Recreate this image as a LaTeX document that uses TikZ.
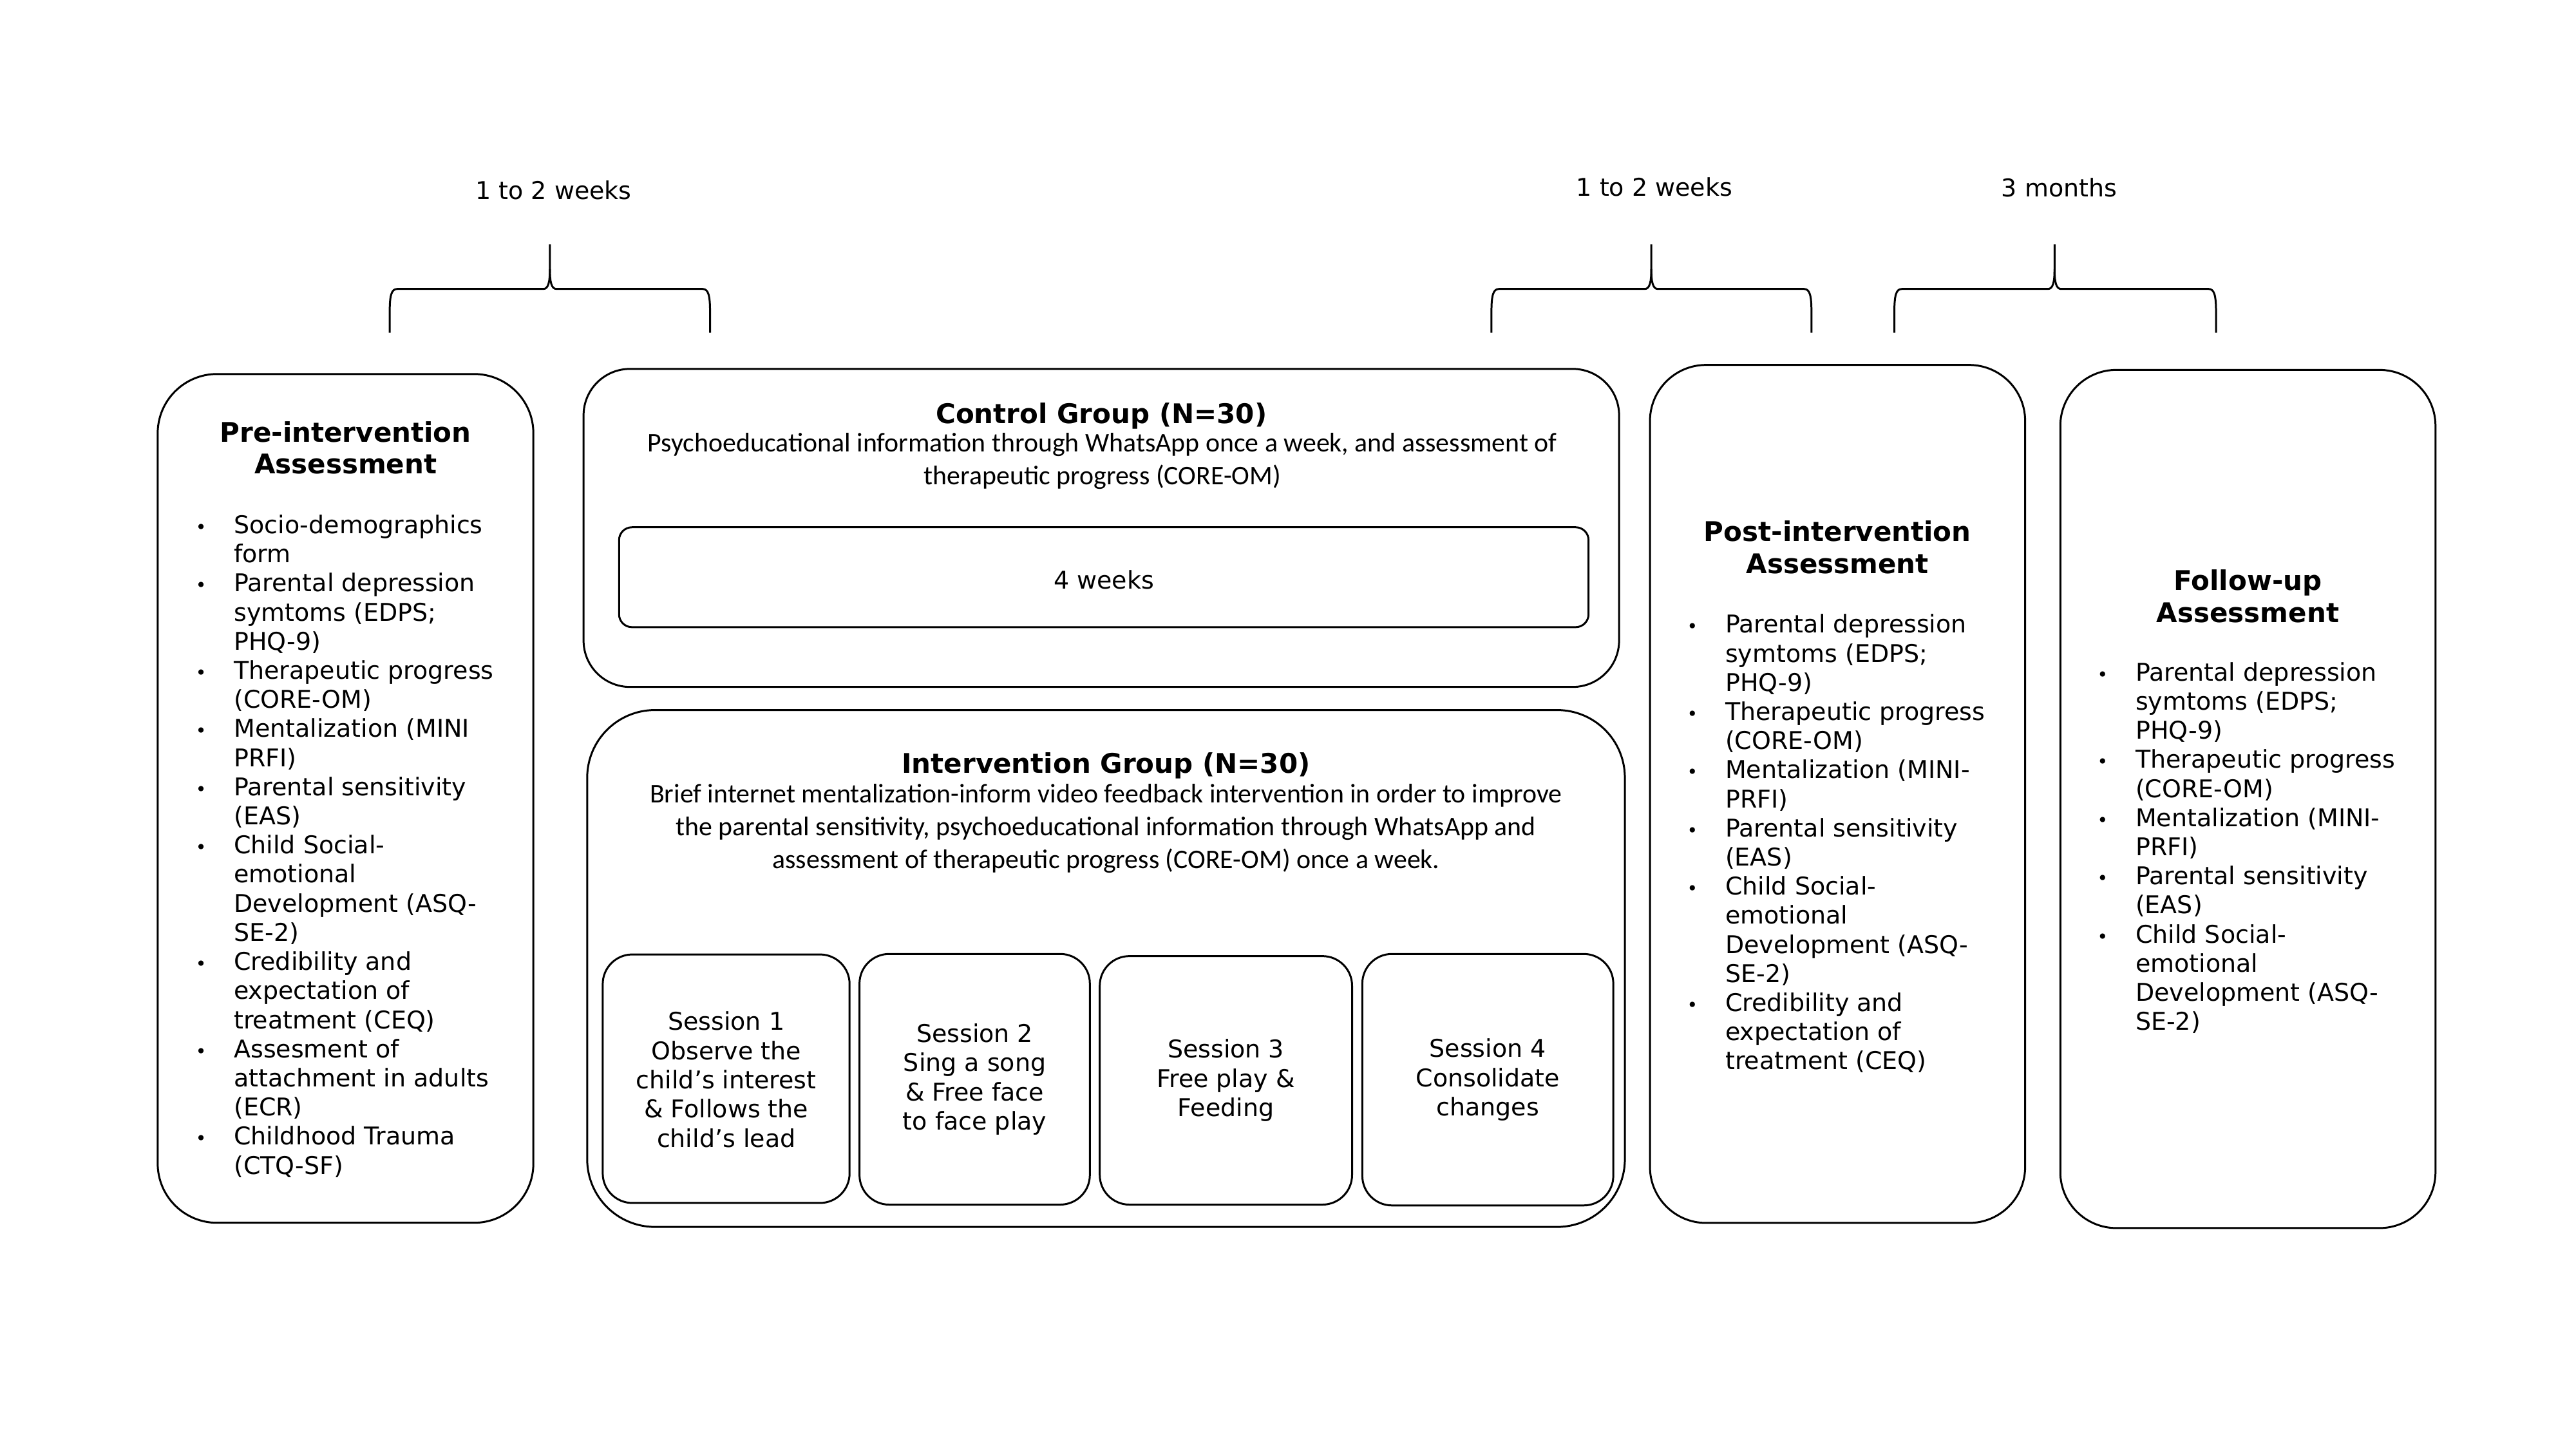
\documentclass[tikz,border=0pt]{standalone}
\usepackage{fontspec}
\setmainfont{DejaVu Sans}
\newfontfamily\calib{Carlito}
\newcommand\bul{\llap{{\fontsize{8}{8}\selectfont •}\hspace{12.2pt}}}
\newcommand\mybrace[3]{%
  \draw[brace] (#1,201.5) -- (#1,189) .. controls (#1,179) and ({#1+1},175) .. ({#1+4.5},175)
    -- ({#2-4},175) .. controls ({#2-1},175) and (#2,171) .. (#2,163) -- (#2,148);
  \draw[brace] (#3,201.5) -- (#3,189) .. controls (#3,179) and ({#3-1},175) .. ({#3-4.5},175)
    -- ({#2+4},175) .. controls ({#2+1},175) and (#2,171) .. (#2,163);
}
\begin{document}
\begin{tikzpicture}[x=0.02564cm,y=-0.02564cm,
  frame/.style={draw, line width=0.85pt},
  brace/.style={line width=0.85pt, line join=round},
  body/.style={inner sep=0pt, font=\fontsize{10.8}{12.86}\selectfont},
  ttl/.style={inner sep=0pt, font=\fontsize{11.95}{14.1}\selectfont\bfseries},
  desc/.style={inner sep=0pt, font=\calib\fontsize{11.9}{14.5}\selectfont},
  sess/.style={inner sep=0pt, align=center, font=\fontsize{10.8}{12.9}\selectfont},
  lbl/.style={inner sep=0pt, font=\fontsize{10.8}{13}\selectfont}]
\useasboundingbox[fill=white] (0,0) rectangle (1560,877.5);

% time labels and braces
\node[lbl] (lab1) at (335.2,115) {1 to 2 weeks};
\node[lbl] (lab2) at (1001.9,113.1) {1 to 2 weeks};
\node[lbl] (lab3) at (1247,113.7) {3 months};
\mybrace{236}{333}{430}
\mybrace{903.2}{1000}{1097}
\mybrace{1147.2}{1244.2}{1342}

% boxes
\draw[frame, rounded corners=0.92cm] (95.5,226.5) rectangle (323,740.5);
\draw[frame, rounded corners=0.72cm] (353.4,223.4) rectangle (980.5,416);
\draw[frame, rounded corners=0.2cm] (374.9,319.3) rectangle (962,379.8);
\draw[frame, rounded corners=1.05cm] (355.6,430) rectangle (984,743);
\draw[frame, rounded corners=0.46cm] (365,578) rectangle (514.5,728.5);
\draw[frame, rounded corners=0.46cm] (520.5,577.7) rectangle (660,729.5);
\draw[frame, rounded corners=0.46cm] (666,579) rectangle (818.8,729.5);
\draw[frame, rounded corners=0.46cm] (825,577.7) rectangle (977,730);
\draw[frame, rounded corners=0.87cm] (999.2,221) rectangle (1226.4,740.6);
\draw[frame, rounded corners=0.87cm] (1247.7,224) rectangle (1474.9,743.7);

% pre-intervention
\node[ttl, anchor=base] (pret) at (209.3,267.6) {\begin{tabular}[t]{@{}c@{}}Pre-intervention\\Assessment\end{tabular}};
\node[body, anchor=base west] (prel) at (141.4,323.1) {\begin{tabular}[t]{@{}l@{}}
\bul Socio-demographics\\ form\\
\bul Parental depression\\ symtoms (EDPS;\\ PHQ-9)\\
\bul Therapeutic progress\\ (CORE-OM)\\
\bul Mentalization (MINI\\ PRFI)\\
\bul Parental sensitivity\\ (EAS)\\
\bul Child Social-\\ emotional\\ Development (ASQ-\\ SE-2)\\
\bul Credibility and\\ expectation of\\ treatment (CEQ)\\
\bul Assesment of\\ attachment in adults\\ (ECR)\\
\bul Childhood Trauma\\ (CTQ-SF)
\end{tabular}};

% control group
\node[ttl, anchor=base] (ctlt) at (667,256.4) {Control Group (N=30)};
\node[desc, anchor=base] (ctld) at (667.6,273.7) {\begin{tabular}[t]{@{}c@{}}Psychoeducational information through WhatsApp once a week, and assessment of\\therapeutic progress (CORE-OM)\end{tabular}};
\node[lbl] (weeks) at (668.5,351) {4 weeks};

% intervention group
\node[ttl, anchor=base] (intt) at (669.8,468.2) {Intervention Group (N=30)};
\node[desc, anchor=base] (intd) at (669.8,486.1) {\begin{tabular}[t]{@{}c@{}}Brief internet mentalization-inform video feedback intervention in order to improve\\the parental sensitivity, psychoeducational information through WhatsApp and\\assessment of therapeutic progress (CORE-OM) once a week.\end{tabular}};
\node[sess] (s1) at (439.8,653.8) {Session 1\\Observe the\\child’s interest\\\& Follows the\\child’s lead};
\node[sess] (s2) at (590.3,653.6) {Session 2\\Sing a song\\\& Free face\\to face play};
\node[sess] (s3) at (742.4,654.3) {Session 3\\Free play \&\\Feeding};
\node[sess] (s4) at (901,653.9) {Session 4\\Consolidate\\changes};

% post-intervention
\node[ttl, anchor=base] (postt) at (1112.8,327.9) {\begin{tabular}[t]{@{}c@{}}Post-intervention\\Assessment\end{tabular}};
\node[body, anchor=base west] (postl) at (1044.6,383.3) {\begin{tabular}[t]{@{}l@{}}
\bul Parental depression\\ symtoms (EDPS;\\ PHQ-9)\\
\bul Therapeutic progress\\ (CORE-OM)\\
\bul Mentalization (MINI-\\ PRFI)\\
\bul Parental sensitivity\\ (EAS)\\
\bul Child Social-\\ emotional\\ Development (ASQ-\\ SE-2)\\
\bul Credibility and\\ expectation of\\ treatment (CEQ)
\end{tabular}};

% follow-up
\node[ttl, anchor=base] (folt) at (1361.3,357.6) {\begin{tabular}[t]{@{}c@{}}Follow-up\\Assessment\end{tabular}};
\node[body, anchor=base west] (foll) at (1293,412.3) {\begin{tabular}[t]{@{}l@{}}
\bul Parental depression\\ symtoms (EDPS;\\ PHQ-9)\\
\bul Therapeutic progress\\ (CORE-OM)\\
\bul Mentalization (MINI-\\ PRFI)\\
\bul Parental sensitivity\\ (EAS)\\
\bul Child Social-\\ emotional\\ Development (ASQ-\\ SE-2)
\end{tabular}};
\end{tikzpicture}
\end{document}
